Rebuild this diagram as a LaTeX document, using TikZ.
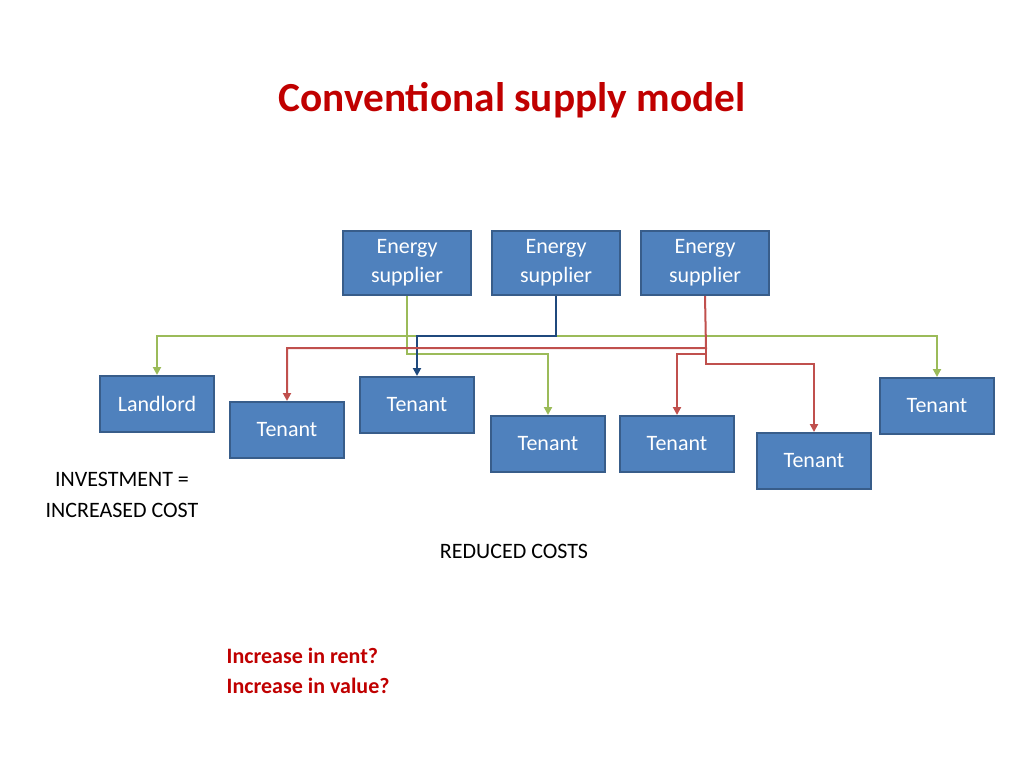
\documentclass[tikz,border=0pt]{standalone}
\usepackage{fontspec}
\setmainfont{Carlito}
\usetikzlibrary{arrows.meta,positioning}
\definecolor{boxblue}{HTML}{4F81BD}
\definecolor{boxedge}{HTML}{385D8A}
\definecolor{linegreen}{HTML}{9BBB59}
\definecolor{linered}{HTML}{C0504D}
\definecolor{lineblue}{HTML}{1F497D}
\definecolor{titlered}{HTML}{C00000}

\begin{document}
\begin{tikzpicture}[
    x=0.75pt, y=-0.75pt,
    supplier/.style={rectangle, draw=boxedge, line width=1.5pt, fill=boxblue, text=white, align=center, minimum width=96pt, minimum height=48pt, inner sep=1pt, font=\fontsize{16.5}{22}\selectfont},
    party/.style={rectangle, draw=boxedge, line width=1.5pt, fill=boxblue, text=white, minimum width=85pt, minimum height=42pt, font=\fontsize{16.5}{20}\selectfont},
    arrow/.style={-{Triangle[length=6pt,width=6pt]}, line width=1.5pt},
    note/.style={font=\fontsize{16.5}{23}\selectfont, align=center}
]
\useasboundingbox (0,0) rectangle (1024,768);

% Title
\node[font=\fontsize{31}{36}\selectfont\bfseries, text=titlered] (title) at (512,100) {Conventional supply model};

% Suppliers
\node[supplier] (sup1) at (407,263) {Energy\\supplier};
\node[supplier] (sup2) at (556,263) {Energy\\supplier};
\node[supplier] (sup3) at (705,263) {Energy\\supplier};

% Landlord and tenants
\node[party] (landlord) at (157,404) {Landlord};
\node[party] (ten1) at (287,430) {Tenant};
\node[party] (ten2) at (417,405) {Tenant};
\node[party] (ten3) at (548,444) {Tenant};
\node[party] (ten4) at (677,444) {Tenant};
\node[party] (ten5) at (814,461) {Tenant};
\node[party] (ten6) at (937,406) {Tenant};

% Branch points
\coordinate (gsplit) at (407,336);
\coordinate (rsplit) at (706,348);

% Green supplier
\draw[arrow, linegreen] (sup1.south) -- (gsplit) -| (landlord.north);
\draw[arrow, linegreen] (gsplit) -| (ten6.north);
\draw[arrow, linegreen] (gsplit) -- (407,354) -| (ten3.north);

% Blue supplier
\draw[arrow, lineblue] (sup2.south) |- (556,336) -| (ten2.north);

% Red supplier
\draw[arrow, linered] (sup3.south) -- (rsplit) -| (ten1.north);
\draw[arrow, linered] (rsplit) -- (706,354) -| (ten4.north);
\draw[arrow, linered] (706,354) -- (706,364) -| (ten5.north);

% Notes
\node[note] (invest) at (122,495) {INVESTMENT =\\INCREASED COST};
\node[note] (reduced) at (514,551) {REDUCED COSTS};
\node[note, align=left, anchor=west, text=titlered, font=\fontsize{16.5}{23}\selectfont\bfseries] (question) at (222,671) {Increase in rent?\\Increase in value?};

\end{tikzpicture}
\end{document}
